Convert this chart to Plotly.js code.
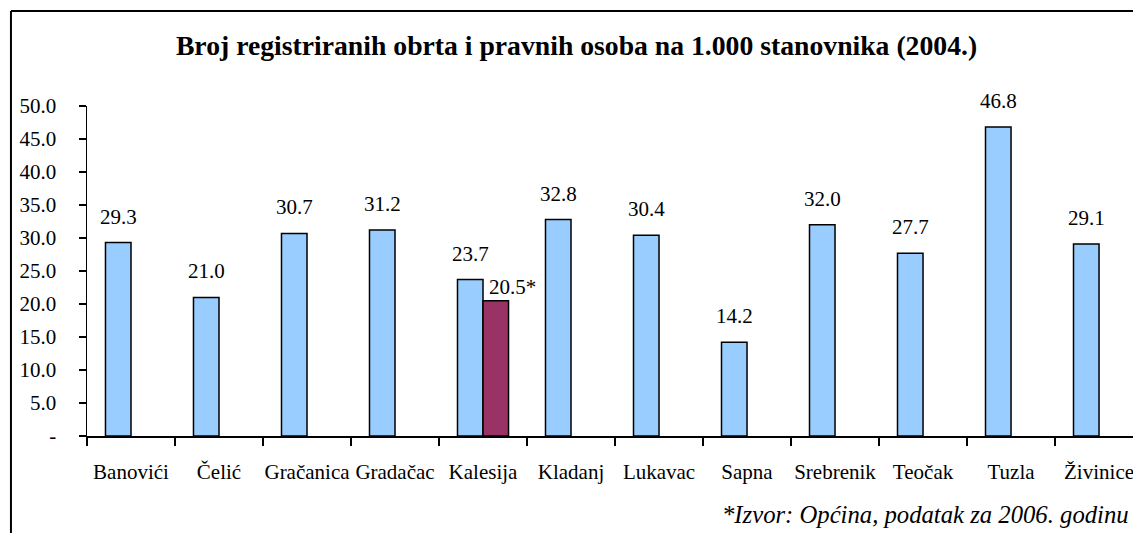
<!DOCTYPE html>
<html>
<head>
<meta charset="utf-8">
<script src="https://cdn.plot.ly/plotly-3.0.1.min.js"></script>
<style>html,body{margin:0;padding:0;background:#fff;}#chart{width:1133px;height:533px;}</style>
</head>
<body>
<div id="chart"></div>
<script>
const categories = ["Banovići", "Čelić", "Gračanica", "Gradačac", "Kalesija", "Kladanj", "Lukavac", "Sapna", "Srebrenik", "Teočak", "Tuzla", "Živinice"];
const values2004 = [29.3, 21.0, 30.7, 31.2, 23.7, 32.8, 30.4, 14.2, 32.0, 27.7, 46.8, 29.1];
const extraCategories = ["Kalesija"];
const values2006 = [20.5];
const yTickVals = [0, 5, 10, 15, 20, 25, 30, 35, 40, 45, 50];
const yTickText = ["-", "5.0", "10.0", "15.0", "20.0", "25.0", "30.0", "35.0", "40.0", "45.0", "50.0"];
const titleText = "Broj registriranih obrta i pravnih osoba na 1.000 stanovnika (2004.)";
const footnoteText = "*Izvor: Općina, podatak za 2006. godinu";

const FONT = "Times New Roman";
const lineStyle = {color: "#000", width: 1.5};

const traces = [
  {type: "bar", x: categories, y: values2004, marker: {color: "#99CCFF", line: lineStyle}, hoverinfo: "x+y"},
  {type: "bar", x: extraCategories, y: values2006, marker: {color: "#993366", line: lineStyle}, hoverinfo: "x+y"}
];

const annotations = [];
categories.forEach((c, i) => {
  annotations.push({x: c, y: values2004[i], xref: "x", yref: "y", text: values2004[i].toFixed(1),
    showarrow: false, yanchor: "middle", xanchor: "center", xshift: -13, yshift: 26,
    font: {family: FONT, size: 21, color: "#000"}});
});
extraCategories.forEach((c, i) => {
  annotations.push({x: c, y: values2006[i], xref: "x", yref: "y", text: values2006[i].toFixed(1) + "*",
    showarrow: false, yanchor: "middle", xanchor: "center", xshift: 29, yshift: 14,
    font: {family: FONT, size: 21, color: "#000"}});
});
annotations.push({xref: "paper", yref: "paper", x: 0.998, y: -0.239, xanchor: "right", yanchor: "middle",
  text: footnoteText, showarrow: false, font: {family: FONT, size: 24.7, color: "#000", style: "italic"}});

const layout = {
  width: 1133, height: 533,
  margin: {l: 87, r: 0, t: 106, b: 97, pad: 0},
  paper_bgcolor: "#fff", plot_bgcolor: "#fff",
  showlegend: false,
  barmode: "group", bargap: 0.42, bargroupgap: 0,
  font: {family: FONT, color: "#000"},
  title: {text: titleText, xref: "paper", x: 0.468, xanchor: "center", yref: "container", y: 0.9156, yanchor: "middle",
    font: {family: FONT, size: 27.7, color: "#000", weight: "bold"}},
  xaxis: {type: "category", range: [-0.5, 11.386], tickson: "boundaries", ticks: "outside", ticklen: 8, tickwidth: 1.5,
    tickcolor: "#000", showline: true, linecolor: "#000", linewidth: 1.5, showgrid: false, zeroline: false, tickangle: 0,
    tickfont: {family: FONT, size: 21, color: "#000"}, ticklabelstandoff: 16, fixedrange: true},
  yaxis: {range: [0, 50], tickvals: yTickVals, ticktext: yTickText, ticks: "outside", ticklen: 7, tickwidth: 1.5,
    tickcolor: "#000", showline: true, linecolor: "#000", linewidth: 1.5, showgrid: false, zeroline: false,
    tickfont: {family: FONT, size: 21, color: "#000"}, ticklabelstandoff: 18, fixedrange: true},
  annotations: annotations,
  shapes: [
    {type: "line", xref: "paper", yref: "paper", x0: -0.0727, x1: 1.02, y0: 1.2879, y1: 1.2879, line: {color: "#000", width: 2}},
    {type: "line", xref: "paper", yref: "paper", x0: -0.0727, x1: -0.0727, y0: 1.2879, y1: -0.32, line: {color: "#000", width: 2}}
  ]
};

Plotly.newPlot("chart", traces, layout, {displayModeBar: false, staticPlot: true});
</script>
</body>
</html>
